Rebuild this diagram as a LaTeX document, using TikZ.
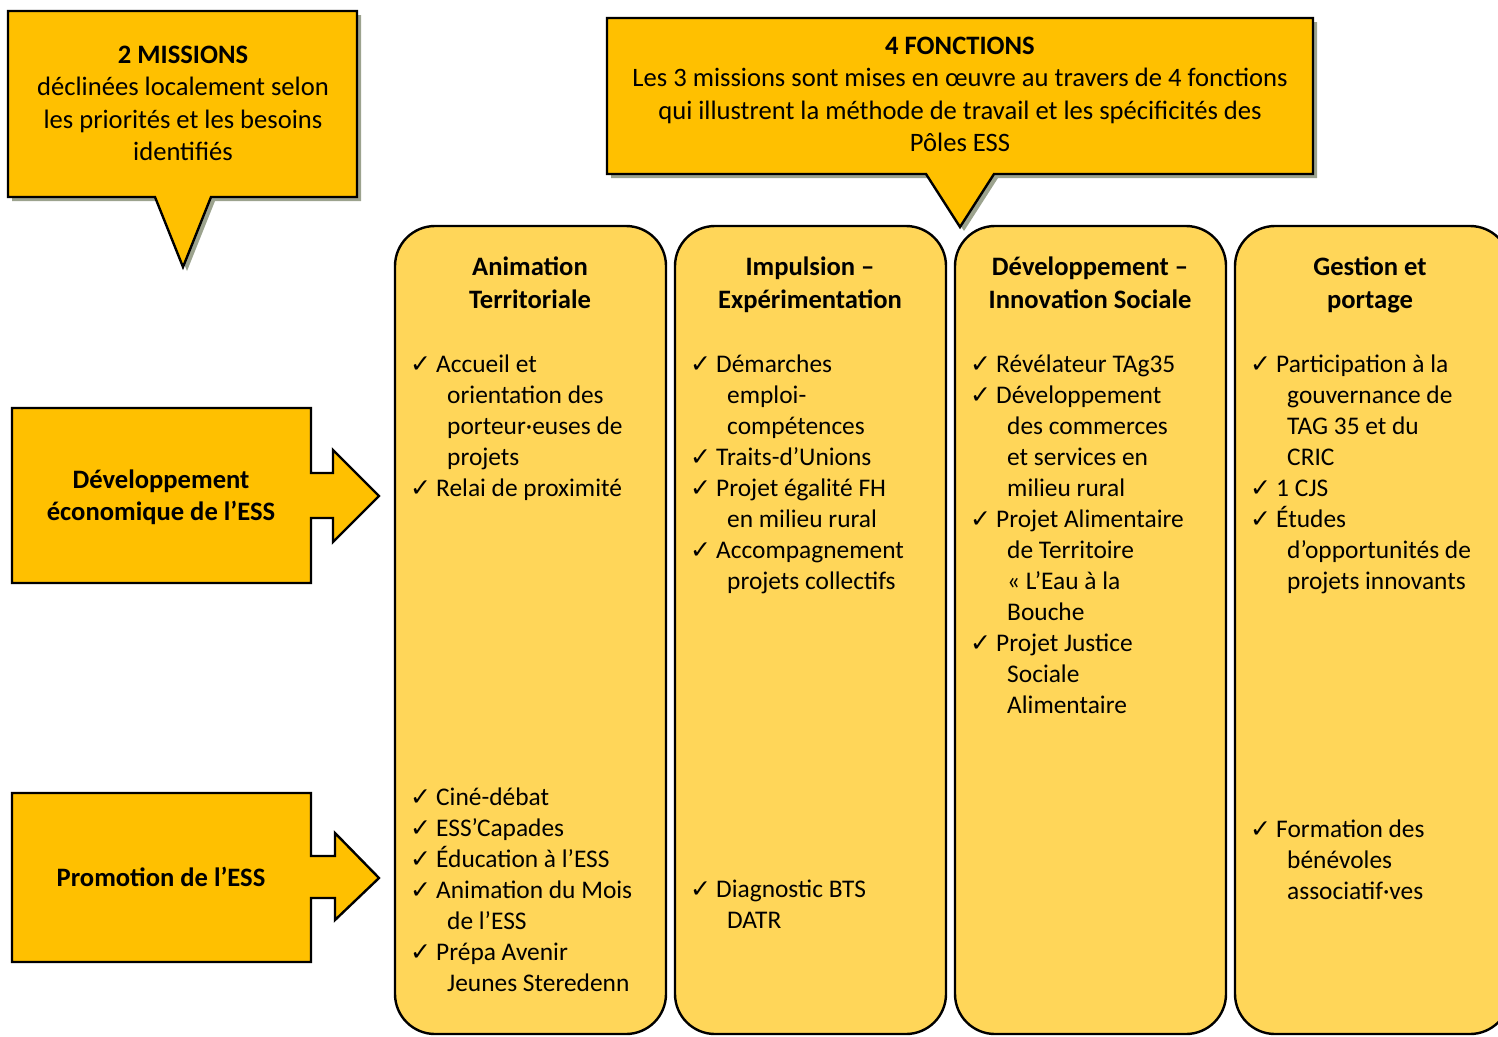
\documentclass[tikz,border=0pt]{standalone}
\usepackage{fontspec}
\setmainfont{Carlito}
\newfontfamily\symf{DejaVu Sans}
\definecolor{gold}{HTML}{FFC000}
\definecolor{colfill}{HTML}{FFD659}
\definecolor{shadowc}{HTML}{9CA38E}
\newcommand\bodyf{\fontsize{25.4}{32.5}\selectfont}
\newcommand\bigf{\fontsize{26.6}{32.5}\selectfont}
\newcommand\chkf{\symf\fontsize{25}{28}\selectfont}
\newcommand\chkline[4]{%
  \node[chk] (#1c) at ({#2+15},#3) {✓};
  \node[itm] (#1) at ({#2+41},#3) {#4};}
\newcommand\cntline[4]{\node[itm] (#1) at ({#2+52},#3) {#4};}
\tikzset{
  col/.style={draw=black, line width=2.4pt, fill=colfill, rounded corners=40pt},
  callout/.style={draw=black, line width=2.4pt, fill=gold},
  shad/.style={fill=shadowc},
  itm/.style={anchor=base west, inner sep=0pt, font=\bodyf},
  chk/.style={anchor=base west, inner sep=0pt, font=\chkf},
  head/.style={anchor=base, inner sep=0pt, font=\bigf\bfseries},
  ctext/.style={anchor=base, inner sep=0pt, font=\bigf},
}
\begin{document}
\begin{tikzpicture}[x=1pt,y=-1pt]
\useasboundingbox (0,0) rectangle (1498,1036);
\clip (0,0) rectangle (1498,1036);
% columns
\draw[col] (395,226) rectangle (666,1034);
\draw[col] (675,226) rectangle (946,1034);
\draw[col] (955,226) rectangle (1226,1034);
\draw[col] (1235,226) rectangle (1510,1034);
% callout 1
\fill[shad] (12,15) -- (361,15) -- (361,201) -- (215,201) -- (187,271) -- (159,201) -- (12,201) -- cycle;
\draw[callout] (8,11) -- (357,11) -- (357,197) -- (211,197) -- (183,267) -- (155,197) -- (8,197) -- cycle;
% callout 2
\fill[shad] (611,22) -- (1317,22) -- (1317,178) -- (998,178) -- (964,231) -- (930,178) -- (611,178) -- cycle;
\draw[callout] (607,18) -- (1313,18) -- (1313,174) -- (994,174) -- (960,227) -- (926,174) -- (607,174) -- cycle;
% left arrow boxes
\draw[callout] (12,408) -- (311,408) -- (311,473) -- (333,473) -- (333,450) -- (379,496) -- (333,542) -- (333,518) -- (311,518) -- (311,583) -- (12,583) -- cycle;
\draw[callout] (12,793) -- (311,793) -- (311,856) -- (335,856) -- (335,833) -- (379,878) -- (335,920) -- (335,898) -- (311,898) -- (311,962) -- (12,962) -- cycle;
% callout texts
\node[head] (m1) at (183,63) {2 MISSIONS};
\node[ctext] (m2) at (183,95) {déclinées localement selon};
\node[ctext] (m3) at (183,128) {les priorités et les besoins};
\node[ctext] (m4) at (183,160) {identifiés};
\node[head] (f1) at (960,54) {4 FONCTIONS};
\node[ctext] (f2) at (960,86) {Les 3 missions sont mises en œuvre au travers de 4 fonctions};
\node[ctext] (f3) at (960,119) {qui illustrent la méthode de travail et les spécificités des};
\node[ctext] (f4) at (960,151) {Pôles ESS};
\node[head] (d1) at (161,488) {Développement};
\node[head] (d2) at (161,520) {économique de l’ESS};
\node[head] (p1) at (161,886) {Promotion de l’ESS};
% headings
\node[head] (h1a) at (530,275) {Animation};
\node[head] (h1b) at (530,308) {Territoriale};
\node[head] (h2a) at (810,275) {Impulsion –};
\node[head] (h2b) at (810,308) {Expérimentation};
\node[head] (h3a) at (1090,275) {Développement –};
\node[head] (h3b) at (1090,308) {Innovation Sociale};
\node[head] (h4a) at (1370,275) {Gestion et};
\node[head] (h4b) at (1370,308) {portage};
% column 1
\chkline{a1}{395}{372}{Accueil et}
\cntline{a2}{395}{403}{orientation des}
\cntline{a3}{395}{434}{porteur·euses de}
\cntline{a4}{395}{465}{projets}
\chkline{a5}{395}{496}{Relai de proximité}
\chkline{b1}{395}{805}{Ciné-débat}
\chkline{b2}{395}{836}{ESS’Capades}
\chkline{b3}{395}{867}{Éducation à l’ESS}
\chkline{b4}{395}{898}{Animation du Mois}
\cntline{b5}{395}{929}{de l’ESS}
\chkline{b6}{395}{960}{Prépa Avenir}
\cntline{b7}{395}{991}{Jeunes Steredenn}
% column 2
\chkline{c1}{675}{372}{Démarches}
\cntline{c2}{675}{403}{emploi-}
\cntline{c3}{675}{434}{compétences}
\chkline{c4}{675}{465}{Traits-d’Unions}
\chkline{c5}{675}{496}{Projet égalité FH}
\cntline{c6}{675}{527}{en milieu rural}
\chkline{c7}{675}{558}{Accompagnement}
\cntline{c8}{675}{589}{projets collectifs}
\chkline{e1}{675}{897}{Diagnostic BTS}
\cntline{e2}{675}{928}{DATR}
% column 3
\chkline{g1}{955}{372}{Révélateur TAg35}
\chkline{g2}{955}{403}{Développement}
\cntline{g3}{955}{434}{des commerces}
\cntline{g4}{955}{465}{et services en}
\cntline{g5}{955}{496}{milieu rural}
\chkline{g6}{955}{527}{Projet Alimentaire}
\cntline{g7}{955}{558}{de Territoire}
\cntline{g8}{955}{589}{« L’Eau à la}
\cntline{g9}{955}{620}{Bouche}
\chkline{g10}{955}{651}{Projet Justice}
\cntline{g11}{955}{682}{Sociale}
\cntline{g12}{955}{713}{Alimentaire}
% column 4
\chkline{k1}{1235}{372}{Participation à la}
\cntline{k2}{1235}{403}{gouvernance de}
\cntline{k3}{1235}{434}{TAG 35 et du}
\cntline{k4}{1235}{465}{CRIC}
\chkline{k5}{1235}{496}{1 CJS}
\chkline{k6}{1235}{527}{Études}
\cntline{k7}{1235}{558}{d’opportunités de}
\cntline{k8}{1235}{589}{projets innovants}
\chkline{n1}{1235}{837}{Formation des}
\cntline{n2}{1235}{868}{bénévoles}
\cntline{n3}{1235}{899}{associatif·ves}
\end{tikzpicture}
\end{document}
